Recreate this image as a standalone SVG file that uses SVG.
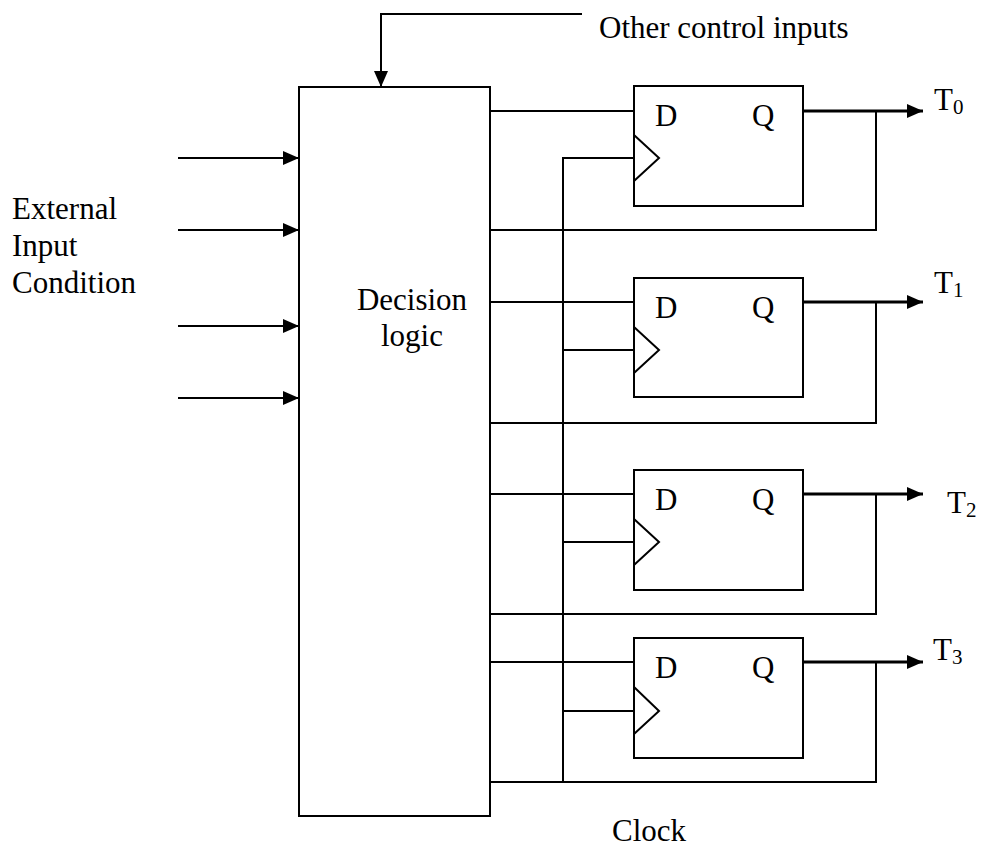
<svg xmlns="http://www.w3.org/2000/svg" width="981" height="848" viewBox="0 0 981 848">
<style>
.w{fill:none;stroke:#000;stroke-width:2}
.q{fill:none;stroke:#000;stroke-width:3}
.b{fill:#fff;stroke:#000;stroke-width:2}
text{font-family:"Liberation Serif","Times New Roman",serif;font-size:31px;fill:#000}
.s{font-size:21px}
.c{text-anchor:middle}
</style>
<defs>
<marker id="ah" markerWidth="17" markerHeight="14" refX="16" refY="7" orient="auto" markerUnits="userSpaceOnUse">
<path d="M0,0 L16,7 L0,14 Z" fill="#000"/>
</marker>
</defs>
<rect width="981" height="848" fill="#fff"/>
<g id="connectors">
<polyline class="w" points="582,14 381,14 381,87" marker-end="url(#ah)"/>
<line class="w" x1="178" y1="158" x2="299" y2="158" marker-end="url(#ah)"/>
<line class="w" x1="178" y1="230" x2="299" y2="230" marker-end="url(#ah)"/>
<line class="w" x1="178" y1="326" x2="299" y2="326" marker-end="url(#ah)"/>
<line class="w" x1="178" y1="398" x2="299" y2="398" marker-end="url(#ah)"/>
<line class="w" x1="490" y1="111" x2="634" y2="111"/>
<line class="w" x1="490" y1="302" x2="634" y2="302"/>
<line class="w" x1="490" y1="494" x2="634" y2="494"/>
<line class="w" x1="490" y1="662" x2="634" y2="662"/>
<polyline class="w" points="490,230 876,230 876,111"/>
<polyline class="w" points="490,423 876,423 876,302"/>
<polyline class="w" points="490,614 876,614 876,494"/>
<polyline class="w" points="490,782 876,782 876,662"/>
<polyline class="w" points="634,158 563,158 563,782"/>
<line class="w" x1="563" y1="350" x2="634" y2="350"/>
<line class="w" x1="563" y1="542" x2="634" y2="542"/>
<line class="w" x1="563" y1="711" x2="634" y2="711"/>
<line class="q" x1="803" y1="111" x2="923" y2="111" marker-end="url(#ah)"/>
<line class="q" x1="803" y1="302" x2="923" y2="302" marker-end="url(#ah)"/>
<line class="q" x1="803" y1="494" x2="923" y2="494" marker-end="url(#ah)"/>
<line class="q" x1="803" y1="662" x2="923" y2="662" marker-end="url(#ah)"/>
</g>
<g id="decision">
<rect class="b" x="299" y="87" width="191" height="729"/>
<text class="c" x="412" y="310">Decision</text>
<text class="c" x="412" y="346">logic</text>
</g>
<g id="ff0">
<rect class="b" x="634" y="86" width="169" height="120"/>
<polyline class="w" points="634,135 659,158 634,181"/>
<text x="655" y="126">D</text><text x="752" y="126">Q</text>
</g>
<g id="ff1">
<rect class="b" x="634" y="278" width="169" height="119"/>
<polyline class="w" points="634,327 659,350 634,373"/>
<text x="655" y="318">D</text><text x="752" y="318">Q</text>
</g>
<g id="ff2">
<rect class="b" x="634" y="470" width="169" height="120"/>
<polyline class="w" points="634,519 659,542 634,565"/>
<text x="655" y="510">D</text><text x="752" y="510">Q</text>
</g>
<g id="ff3">
<rect class="b" x="634" y="638" width="169" height="120"/>
<polyline class="w" points="634,687 659,711 634,734"/>
<text x="655" y="678">D</text><text x="752" y="678">Q</text>
</g>
<g id="labels">
<text x="599" y="38">Other control inputs</text>
<text x="12" y="219">External</text>
<text x="12" y="256">Input</text>
<text x="12" y="293">Condition</text>
<text x="612" y="841">Clock</text>
<text x="934" y="110">T<tspan class="s" dy="4">0</tspan></text>
<text x="934" y="293">T<tspan class="s" dy="4">1</tspan></text>
<text x="947" y="513">T<tspan class="s" dy="4">2</tspan></text>
<text x="933" y="660">T<tspan class="s" dy="4">3</tspan></text>
</g>
</svg>
